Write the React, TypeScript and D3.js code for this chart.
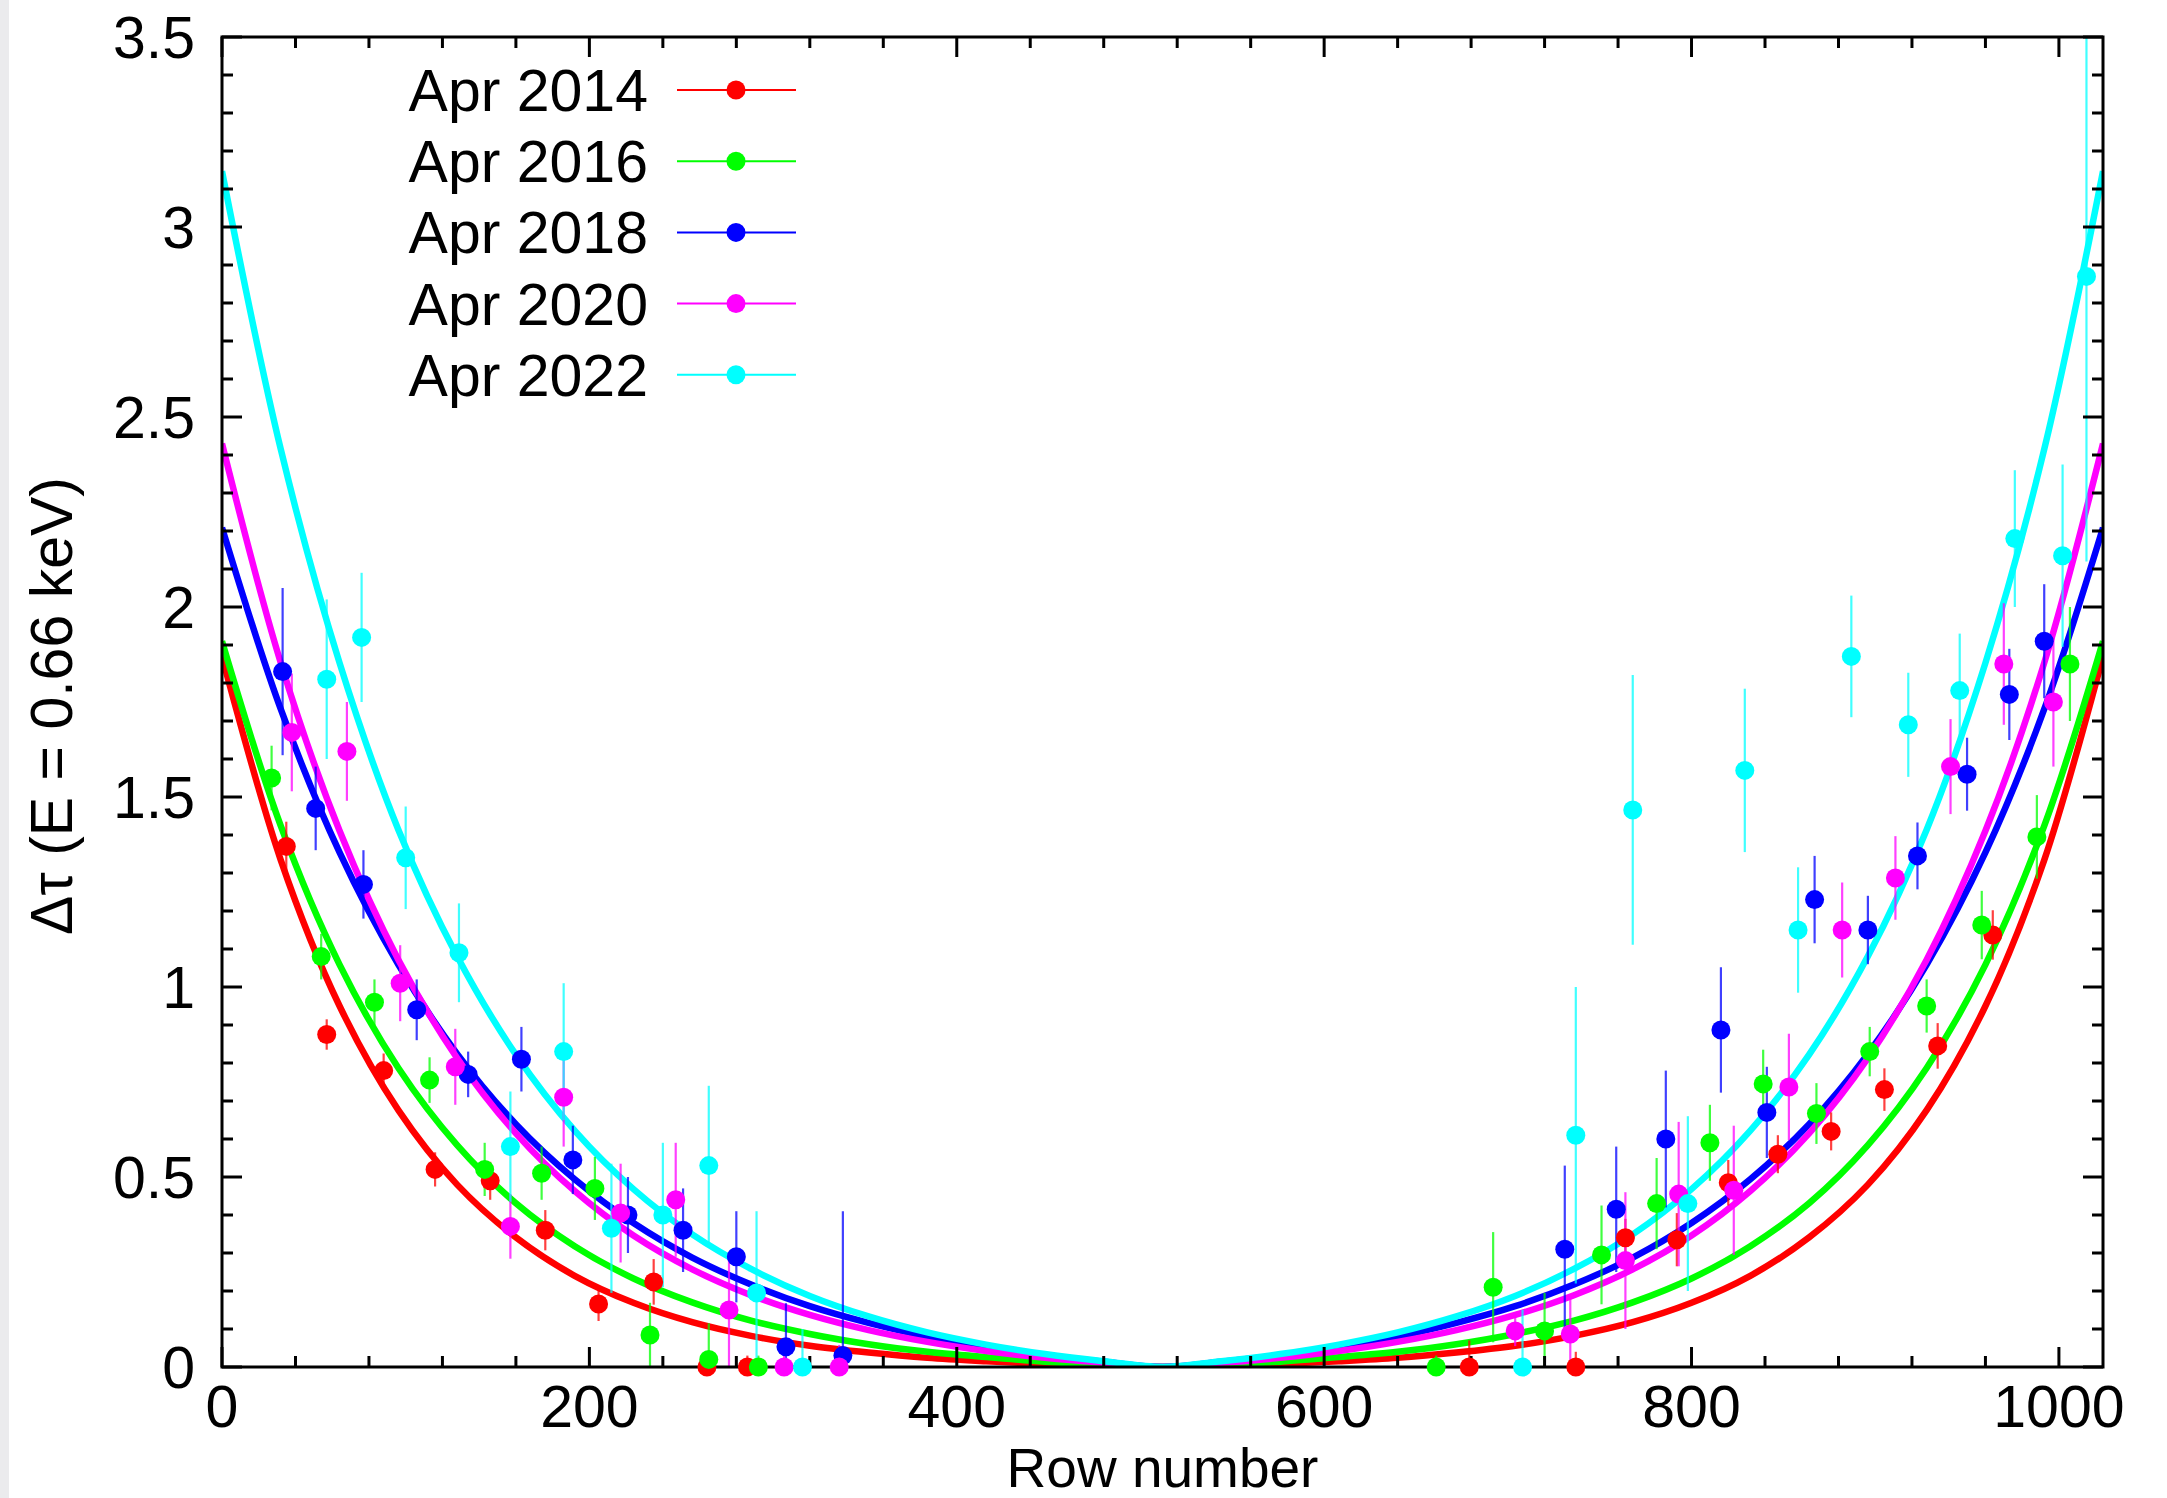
import React from 'react';
import * as d3 from 'd3';

// ---------- data ----------
const seriesNames = ['Apr 2014', 'Apr 2016', 'Apr 2018', 'Apr 2020', 'Apr 2022'];
const seriesColors = ['#ff0000', '#00ff00', '#0000ff', '#ff00ff', '#00ffff'];

const rows2014 = [35, 57, 88, 116, 146, 176, 205, 235, 264, 286, 679, 737, 764, 792, 820, 847, 876, 905, 934, 964];
const vals2014 = [1.37, 0.875, 0.78, 0.52, 0.49, 0.36, 0.166, 0.224, 0, 0, 0, 0, 0.34, 0.335, 0.485, 0.56, 0.62, 0.73, 0.845, 1.137];
const errs2014 = [0.065, 0.04, 0.045, 0.045, 0.05, 0.053, 0.045, 0.06, 0.03, 0.03, 0.07, 0.04, 0.05, 0.07, 0.06, 0.05, 0.05, 0.056, 0.06, 0.065];

const rows2016 = [27, 54, 83, 113, 143, 174, 203, 233, 265, 292, 661, 692, 720, 751, 781, 810, 839, 868, 897, 928, 958, 988, 1006];
const vals2016 = [1.55, 1.08, 0.96, 0.755, 0.52, 0.51, 0.47, 0.084, 0.02, 0, 0, 0.21, 0.095, 0.295, 0.43, 0.59, 0.745, 0.667, 0.83, 0.95, 1.163, 1.395, 1.85];
const errs2016 = [0.085, 0.06, 0.06, 0.06, 0.07, 0.07, 0.083, 0.085, 0.095, 0.03, 0.03, 0.145, 0.1, 0.13, 0.12, 0.1, 0.09, 0.08, 0.065, 0.07, 0.09, 0.11, 0.15];

const rows2018 = [33, 51, 77, 106, 134, 163, 191, 221, 251, 280, 307, 338, 731, 759, 786, 816, 841, 867, 896, 923, 950, 973, 992];
const vals2018 = [1.83, 1.47, 1.27, 0.94, 0.77, 0.81, 0.545, 0.4, 0.36, 0.29, 0.053, 0.03, 0.31, 0.415, 0.6, 0.887, 0.67, 1.23, 1.15, 1.345, 1.56, 1.77, 1.91];
const errs2018 = [0.22, 0.11, 0.09, 0.08, 0.06, 0.085, 0.09, 0.1, 0.11, 0.12, 0.115, 0.38, 0.22, 0.165, 0.18, 0.165, 0.12, 0.115, 0.09, 0.088, 0.096, 0.12, 0.15];

const rows2020 = [38, 68, 97, 127, 157, 186, 217, 247, 276, 306, 336, 704, 734, 764, 793, 823, 853, 882, 911, 941, 970, 997];
const vals2020 = [1.67, 1.62, 1.01, 0.79, 0.37, 0.71, 0.405, 0.44, 0.15, 0, 0, 0.095, 0.087, 0.28, 0.455, 0.465, 0.737, 1.15, 1.287, 1.58, 1.85, 1.75];
const errs2020 = [0.155, 0.13, 0.1, 0.1, 0.085, 0.13, 0.13, 0.15, 0.15, 0.03, 0.058, 0.04, 0.1, 0.18, 0.19, 0.17, 0.14, 0.125, 0.11, 0.125, 0.16, 0.17];

const rows2022 = [57, 76, 100, 129, 157, 186, 212, 240, 265, 291, 316, 708, 737, 768, 798, 829, 858, 887, 918, 946, 976, 1002, 1015];
const vals2022 = [1.81, 1.92, 1.34, 1.09, 0.58, 0.83, 0.365, 0.4, 0.53, 0.195, 0, 0, 0.61, 1.466, 0.43, 1.57, 1.15, 1.87, 1.69, 1.78, 2.18, 2.135, 2.87];
const errs2022 = [0.21, 0.17, 0.135, 0.13, 0.145, 0.18, 0.17, 0.19, 0.21, 0.215, 0.1, 0.15, 0.39, 0.355, 0.23, 0.215, 0.165, 0.16, 0.137, 0.15, 0.18, 0.24, 0.75];

// fitted curves, read at every 32 rows
const fitRows = [0, 32, 64, 96, 128, 160, 192, 224, 256, 288, 320, 352, 384, 416, 448, 480, 512, 544, 576, 608, 640, 672, 704, 736, 768, 800, 832, 864, 896, 928, 960, 992, 1024];
const fit2014 = [1.87, 1.334, 0.95, 0.676, 0.48, 0.341, 0.24, 0.169, 0.118, 0.082, 0.056, 0.038, 0.024, 0.015, 0.008, 0.003, 0, 0.003, 0.008, 0.015, 0.024, 0.038, 0.056, 0.082, 0.118, 0.169, 0.24, 0.341, 0.48, 0.676, 0.95, 1.334, 1.87];
const fit2016 = [1.91, 1.424, 1.059, 0.787, 0.584, 0.431, 0.318, 0.233, 0.17, 0.122, 0.087, 0.06, 0.04, 0.026, 0.014, 0.006, 0, 0.006, 0.014, 0.026, 0.04, 0.06, 0.087, 0.122, 0.17, 0.233, 0.318, 0.431, 0.584, 0.787, 1.059, 1.424, 1.91];
const fit2018 = [2.209, 1.731, 1.354, 1.059, 0.824, 0.639, 0.494, 0.379, 0.288, 0.217, 0.16, 0.116, 0.08, 0.053, 0.031, 0.014, 0, 0.014, 0.031, 0.053, 0.08, 0.116, 0.16, 0.217, 0.288, 0.379, 0.494, 0.639, 0.824, 1.059, 1.354, 1.731, 2.209];
const fit2020 = [2.43, 1.853, 1.411, 1.072, 0.813, 0.615, 0.463, 0.346, 0.257, 0.189, 0.137, 0.097, 0.066, 0.042, 0.024, 0.011, 0, 0.011, 0.024, 0.042, 0.066, 0.097, 0.137, 0.189, 0.257, 0.346, 0.463, 0.615, 0.813, 1.072, 1.411, 1.853, 2.43];
const fit2022 = [3.147, 2.415, 1.853, 1.414, 1.081, 0.822, 0.622, 0.468, 0.349, 0.258, 0.187, 0.133, 0.091, 0.059, 0.034, 0.015, 0, 0.015, 0.034, 0.059, 0.091, 0.133, 0.187, 0.258, 0.349, 0.468, 0.622, 0.822, 1.081, 1.414, 1.853, 2.415, 3.147];

const xTickValues = [0, 200, 400, 600, 800, 1000];
const xTickLabels = ['0', '200', '400', '600', '800', '1000'];
const yTickValues = [0, 0.5, 1, 1.5, 2, 2.5, 3, 3.5];
const yTickLabels = ['0', '0.5', '1', '1.5', '2', '2.5', '3', '3.5'];
const xLabel = 'Row number';
const yLabel = 'Δτ (E = 0.66 keV)';

// ---------- layout ----------
const W = 2167;
const H = 1498;
const L = 222, R = 2103, T = 37, B = 1367;
const FONT = '"Liberation Sans", Arial, Helvetica, sans-serif';
const FS = 59;

export default function App() {
  const x = d3.scaleLinear().domain([0, 1024]).range([L, R]);
  const y = d3.scaleLinear().domain([0, 3.5]).range([B, T]);

  const pointSets = [
    { rows: rows2014, vals: vals2014, errs: errs2014 },
    { rows: rows2016, vals: vals2016, errs: errs2016 },
    { rows: rows2018, vals: vals2018, errs: errs2018 },
    { rows: rows2020, vals: vals2020, errs: errs2020 },
    { rows: rows2022, vals: vals2022, errs: errs2022 },
  ];
  const fits = [fit2014, fit2016, fit2018, fit2020, fit2022];

  const line = d3
    .line<number>()
    .x((_, i) => x(fitRows[i]))
    .y((d) => y(d))
    .curve(d3.curveCatmullRom.alpha(0.5));

  const xMinor = d3.range(0, 1024, 40).filter((v) => v % 200 !== 0);
  const yMinor = d3.range(0, 35).map((i) => i / 10).filter((v, i) => i % 5 !== 0);

  const majLen = 20;
  const minLen = 11;

  return (
    <svg
      width={W}
      height={H}
      style={{ position: 'absolute', left: 0, top: 0, background: '#fff' }}
      fontFamily={FONT}
    >
      <rect x={0} y={0} width={W} height={H} fill="#fff" />
      <rect x={0} y={0} width={9} height={H} fill="#ebebed" />
      <defs>
        <clipPath id="plotclip">
          <rect x={L} y={T} width={R - L} height={B - T} />
        </clipPath>
      </defs>

      {/* fitted curves */}
      <g clipPath="url(#plotclip)">
        {fits.map((f, si) => (
          <path key={'fit' + si} d={line(f) || ''} fill="none" stroke={seriesColors[si]} strokeWidth={6.5} />
        ))}
      </g>

      {/* error bars */}
      <g clipPath="url(#plotclip)">
        {pointSets.map((s, si) =>
          s.rows.map((r, i) => (
            <line
              key={'e' + si + '-' + i}
              x1={x(r)}
              x2={x(r)}
              y1={y(s.vals[i] - s.errs[i])}
              y2={y(s.vals[i] + s.errs[i])}
              stroke={seriesColors[si]}
              strokeOpacity={0.75}
              strokeWidth={2.2}
            />
          ))
        )}
      </g>

      {/* frame and ticks */}
      <g stroke="#000" strokeWidth={3} fill="none">
        {xTickValues.map((v) => (
          <g key={'xt' + v}>
            <line x1={x(v)} x2={x(v)} y1={B} y2={B - majLen} />
            <line x1={x(v)} x2={x(v)} y1={T} y2={T + majLen} />
          </g>
        ))}
        {xMinor.map((v) => (
          <g key={'xm' + v}>
            <line x1={x(v)} x2={x(v)} y1={B} y2={B - minLen} />
            <line x1={x(v)} x2={x(v)} y1={T} y2={T + minLen} />
          </g>
        ))}
        {yTickValues.map((v) => (
          <g key={'yt' + v}>
            <line x1={L} x2={L + majLen} y1={y(v)} y2={y(v)} />
            <line x1={R} x2={R - majLen} y1={y(v)} y2={y(v)} />
          </g>
        ))}
        {yMinor.map((v) => (
          <g key={'ym' + v}>
            <line x1={L} x2={L + minLen} y1={y(v)} y2={y(v)} />
            <line x1={R} x2={R - minLen} y1={y(v)} y2={y(v)} />
          </g>
        ))}
        <rect x={L} y={T} width={R - L} height={B - T} />
      </g>

      {/* points */}
      <g>
        {pointSets.map((s, si) =>
          s.rows.map((r, i) => (
            <circle key={'p' + si + '-' + i} cx={x(r)} cy={y(s.vals[i])} r={9.5} fill={seriesColors[si]} />
          ))
        )}
      </g>

      {/* tick labels */}
      <g fontSize={FS} fill="#000">
        {xTickValues.map((v, i) => (
          <text key={'xl' + v} x={x(v)} y={1427} textAnchor="middle">
            {xTickLabels[i]}
          </text>
        ))}
        {yTickValues.map((v, i) => (
          <text key={'yl' + v} x={195} y={y(v) + 21} textAnchor="end">
            {yTickLabels[i]}
          </text>
        ))}
      </g>

      {/* axis titles */}
      <text x={(L + R) / 2} y={1487} fontSize={55} textAnchor="middle" fill="#000">
        {xLabel}
      </text>
      <text
        transform={`translate(72, ${(T + B) / 2 + 4}) rotate(-90)`}
        fontSize={FS}
        textAnchor="middle"
        fill="#000"
      >
        {yLabel}
      </text>

      {/* legend */}
      <g>
        {seriesNames.map((n, i) => {
          const cy = 90 + i * 71.2;
          return (
            <g key={'lg' + i}>
              <text x={648} y={cy + 21} fontSize={FS} textAnchor="end" fill="#000">
                {n}
              </text>
              <line x1={677} x2={796} y1={cy} y2={cy} stroke={seriesColors[i]} strokeWidth={2} />
              <circle cx={736} cy={cy} r={9.5} fill={seriesColors[i]} />
            </g>
          );
        })}
      </g>
    </svg>
  );
}
